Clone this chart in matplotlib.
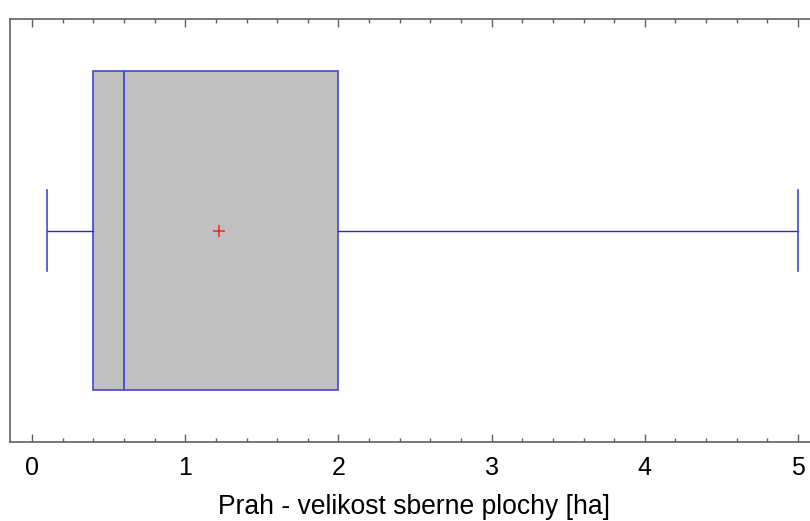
import matplotlib
matplotlib.use("Agg")
import matplotlib.pyplot as plt
from matplotlib.ticker import MultipleLocator

plt.rcParams['font.family'] = ['Liberation Sans', 'DejaVu Sans']

# data (box plot statistics)
whisker_low = 0.1
q1 = 0.4
median = 0.6
mean = 1.22
q3 = 2.0
whisker_high = 5.0
xlabel = "Prah - velikost sberne plochy [ha]"
xticks = [0, 1, 2, 3, 4, 5]

fig = plt.figure(figsize=(8.1, 5.21), dpi=100)
ax = fig.add_axes([10/810, 1-442/521, 1-10/810, (442-19)/521])

stats = [dict(whislo=whisker_low, q1=q1, med=median, q3=q3, whishi=whisker_high,
              mean=mean, fliers=[])]
blue = '#4646d2'
ax.bxp(stats, positions=[0.5], widths=0.754, vert=False, showmeans=True,
       patch_artist=True, capwidths=0.19,
       boxprops=dict(facecolor='#c0c0c0', edgecolor=blue, linewidth=1.2),
       medianprops=dict(color=blue, linewidth=1.3),
       whiskerprops=dict(color='#2c2ca8', linewidth=1.0),
       capprops=dict(color=blue, linewidth=1.2),
       meanprops=dict(marker='+', markeredgecolor='#ff2020', markersize=8, markeredgewidth=1.1))

ax.set_ylim(0, 1)
ax.set_xlim(-0.144, 5.078)
ax.set_yticks([])
ax.set_xticks(xticks)
ax.set_xticklabels([str(t) for t in xticks])
ax.xaxis.set_minor_locator(MultipleLocator(0.2))
ax.tick_params(axis='x', which='both', direction='in', top=True, bottom=True,
               colors='#606060', labelcolor='black', labelsize=18, pad=10)
ax.tick_params(axis='x', which='major', length=6, width=1)
ax.tick_params(axis='x', which='minor', length=3, width=1)
for s in ax.spines.values():
    s.set_color('#606060')
    s.set_linewidth(1.2)
ax.spines['right'].set_visible(False)

fig.text(414.5/810, 1-514/521, xlabel, fontsize=19.1, ha='center', va='baseline')

fig.savefig('out.png', dpi=100, facecolor='white')
